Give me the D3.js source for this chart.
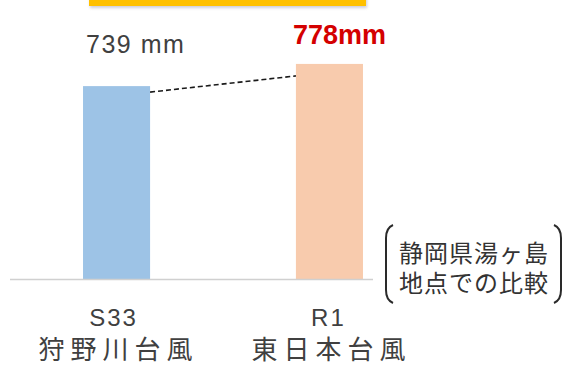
<!DOCTYPE html>
<html>
<head>
<meta charset="utf-8">
<script src="https://cdn.jsdelivr.net/npm/d3@7"></script>
<style>
  html, body { margin: 0; padding: 0; background: #fff; }
  svg { display: block; }
</style>
</head>
<body>
<svg id="chart" width="564" height="367"></svg>
<script>
// Rainfall totals (mm) at Yugashima, Shizuoka
const eras = ["S33", "R1"];
const typhoonNames = ["狩野川台風", "東日本台風"];
const rainfall = [739, 778];
const valueLabels = ["739 mm", "778mm"];
const noteLines = ["静岡県湯ヶ島", "地点での比較"];
const barColors = ["#9dc3e6", "#f8cbad"];

const svg = d3.select("#chart");
const latin = "'Liberation Sans', Arial, sans-serif";
const cjk = "'Noto Sans CJK JP', 'Noto Sans', sans-serif";

const x = d3.scaleBand()
  .domain(eras)
  .range([10, 436])
  .paddingInner(0.685)
  .paddingOuter(0.343);

const y = d3.scaleLinear()
  .domain([400, 800])
  .range([279, 51.4]);

// Title banner edge along the top
const defs = svg.append("defs");
defs.append("filter").attr("id", "soft")
  .append("feGaussianBlur").attr("stdDeviation", 1.5);
svg.append("rect")
  .attr("x", 90).attr("y", -20).attr("width", 277).attr("height", 28)
  .attr("fill", "#b8b8c8").attr("filter", "url(#soft)").attr("opacity", 0.7);
svg.append("rect")
  .attr("x", 89).attr("y", -20).attr("width", 277).attr("height", 26)
  .attr("fill", "#ffc000");

// Bars
svg.selectAll("rect.bar")
  .data(rainfall)
  .join("rect")
  .attr("class", "bar")
  .attr("x", (d, i) => x(eras[i]))
  .attr("y", d => y(d))
  .attr("width", x.bandwidth())
  .attr("height", d => y.range()[0] - y(d))
  .attr("fill", (d, i) => barColors[i]);

// Baseline
svg.append("line")
  .attr("x1", 10).attr("x2", 373)
  .attr("y1", y.range()[0] + 0.5).attr("y2", y.range()[0] + 0.5)
  .attr("stroke", "#d0d0d0").attr("stroke-width", 1.5);

// Dashed connector between the bars
svg.append("line")
  .attr("x1", x(eras[0]) + x.bandwidth())
  .attr("y1", y(rainfall[0]) + 6)
  .attr("x2", x(eras[1]))
  .attr("y2", y(rainfall[1]) + 12)
  .attr("stroke", "#1a1a1a")
  .attr("stroke-width", 1.6)
  .attr("stroke-dasharray", "5,3");

// Value labels
svg.append("text")
  .attr("x", x(eras[0]) + 3)
  .attr("y", 53)
  .attr("font-family", latin)
  .attr("font-size", 25)
  .attr("letter-spacing", 1.5)
  .attr("fill", "#404040")
  .text(valueLabels[0]);

svg.append("text")
  .attr("x", x(eras[1]) - 3)
  .attr("y", 44)
  .attr("font-family", latin)
  .attr("font-size", 27)
  .attr("font-weight", "bold")
  .attr("fill", "#d40000")
  .text(valueLabels[1]);

// Category labels
const cats = svg.selectAll("g.cat")
  .data(eras)
  .join("g")
  .attr("class", "cat")
  .attr("transform", d => `translate(${x(d) + x.bandwidth() / 2},0)`);

cats.append("text")
  .attr("x", (d, i) => i === 0 ? -3 : -1)
  .attr("y", 326)
  .attr("text-anchor", "middle")
  .attr("font-family", latin)
  .attr("font-size", 24)
  .attr("letter-spacing", 2)
  .attr("fill", "#404040")
  .text(d => d);

cats.append("text")
  .attr("x", 2)
  .attr("y", 359)
  .attr("text-anchor", "middle")
  .attr("font-family", cjk)
  .attr("font-size", 26)
  .attr("letter-spacing", 6)
  .attr("fill", "#404040")
  .text((d, i) => typhoonNames[i]);

// Bracketed note, two lines in one text block
const note = svg.append("g");
note.append("path")
  .attr("d", "M393,225 Q386,228 386,238 L386,290 Q386,300 393,303")
  .attr("fill", "none").attr("stroke", "#2a2a2a").attr("stroke-width", 2);
note.append("path")
  .attr("d", "M554,225 Q561,228 561,238 L561,290 Q561,300 554,303")
  .attr("fill", "none").attr("stroke", "#2a2a2a").attr("stroke-width", 2);
note.append("text")
  .attr("y", 262)
  .attr("font-family", cjk)
  .attr("font-size", 24)
  .attr("letter-spacing", 1)
  .attr("fill", "#333")
  .selectAll("tspan")
  .data(noteLines)
  .join("tspan")
  .attr("x", 399)
  .attr("dy", (d, i) => i === 0 ? 0 : 30)
  .text(d => d);
</script>
</body>
</html>
